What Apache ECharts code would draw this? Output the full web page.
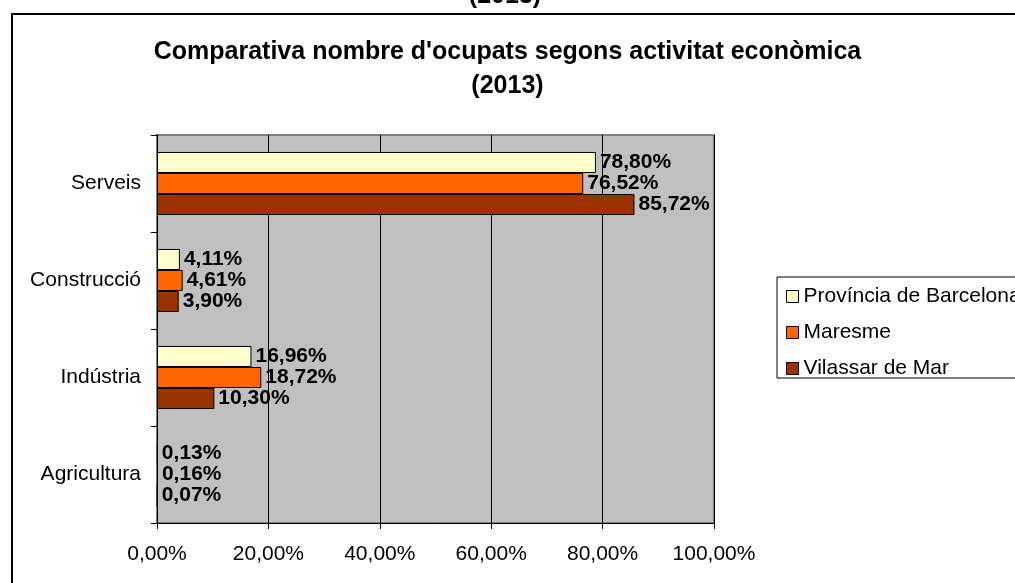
<!DOCTYPE html>
<html>
<head>
<meta charset="utf-8">
<script src="https://cdn.jsdelivr.net/npm/echarts@6/dist/echarts.min.js"></script>
<style>html,body{margin:0;padding:0;background:#fff}#c{width:1015px;height:583px}</style>
</head>
<body>
<div id="c"></div>
<script>
var categories = ['Serveis', 'Construcció', 'Indústria', 'Agricultura'];
var seriesNames = ['Província de Barcelona', 'Maresme', 'Vilassar de Mar'];
var provincia = [78.80, 4.11, 16.96, 0.13];
var maresme = [76.52, 4.61, 18.72, 0.16];
var vilassar = [85.72, 3.90, 10.30, 0.07];
var colors = ['#FFFFCC', '#FF6600', '#993300'];
var FONT = 'Liberation Sans, Arial, sans-serif';

function fmt(v) { return v.toFixed(2).replace('.', ',') + '%'; }

var chart = echarts.init(document.getElementById('c'), null, {renderer: 'canvas'});
function mk(name, data, color) {
  return {
    name: name, type: 'bar', data: data,
    barGap: '0%', barCategoryGap: '35%',
    itemStyle: {color: color, borderColor: '#000', borderWidth: 1},
    label: {show: true, position: 'right', distance: 4, formatter: function (p) { return fmt(p.value); },
      fontFamily: FONT, fontSize: 21, fontWeight: 'bold', color: '#000'},
    emphasis: {disabled: true}, animation: false
  };
}
chart.setOption({
  animation: false,
  textStyle: {fontFamily: FONT},
  title: {
    text: "Comparativa nombre d'ocupats segons activitat econòmica\n(2013)",
    left: 'center', top: 30,
    textStyle: {fontFamily: FONT, fontSize: 25, fontWeight: 'bold', color: '#000', lineHeight: 34}
  },
  graphic: [
    {type: 'rect', shape: {x: 12, y: 14, width: 1100, height: 700}, style: {fill: 'none', stroke: '#000', lineWidth: 2}, silent: true},
    {type: 'text', x: 505, y: -4, style: {text: '(2013)', fontFamily: FONT, fontSize: 25, fontWeight: 'bold', fill: '#000', align: 'center', verticalAlign: 'middle'}, silent: true},
    {type: 'rect', shape: {x: 777, y: 277, width: 300, height: 101}, style: {fill: '#fff', stroke: '#000', lineWidth: 1}, silent: true, z: -1}
  ],
  legend: {
    orient: 'vertical', left: 781, top: 281,
    data: seriesNames,
    itemWidth: 12, itemHeight: 12, itemGap: 15,
    icon: 'rect',
    itemStyle: {borderColor: '#000', borderWidth: 1},
    textStyle: {fontFamily: FONT, fontSize: 21, color: '#000'},
    selectedMode: false
  },
  grid: {left: 157, right: 301, top: 135, bottom: 60, show: true, backgroundColor: '#C0C0C0', borderColor: '#808080', borderWidth: 2, containLabel: false},
  xAxis: {
    type: 'value', min: 0, max: 100, interval: 20,
    axisLine: {show: true, lineStyle: {color: '#000', width: 1}},
    axisTick: {show: true, length: 6, lineStyle: {color: '#000'}},
    axisLabel: {formatter: function (v) { return fmt(v); }, fontFamily: FONT, fontSize: 21, color: '#000', margin: 21},
    splitLine: {show: true, lineStyle: {color: '#000', width: 1}}
  },
  yAxis: {
    type: 'category', data: categories, inverse: true,
    axisLine: {show: true, lineStyle: {color: '#000', width: 1}},
    axisTick: {show: true, length: 6, lineStyle: {color: '#000'}},
    axisLabel: {fontFamily: FONT, fontSize: 21, color: '#000', margin: 16},
    splitLine: {show: false}
  },
  series: [mk(seriesNames[0], provincia, colors[0]), mk(seriesNames[1], maresme, colors[1]), mk(seriesNames[2], vilassar, colors[2])]
});
</script>
</body>
</html>
